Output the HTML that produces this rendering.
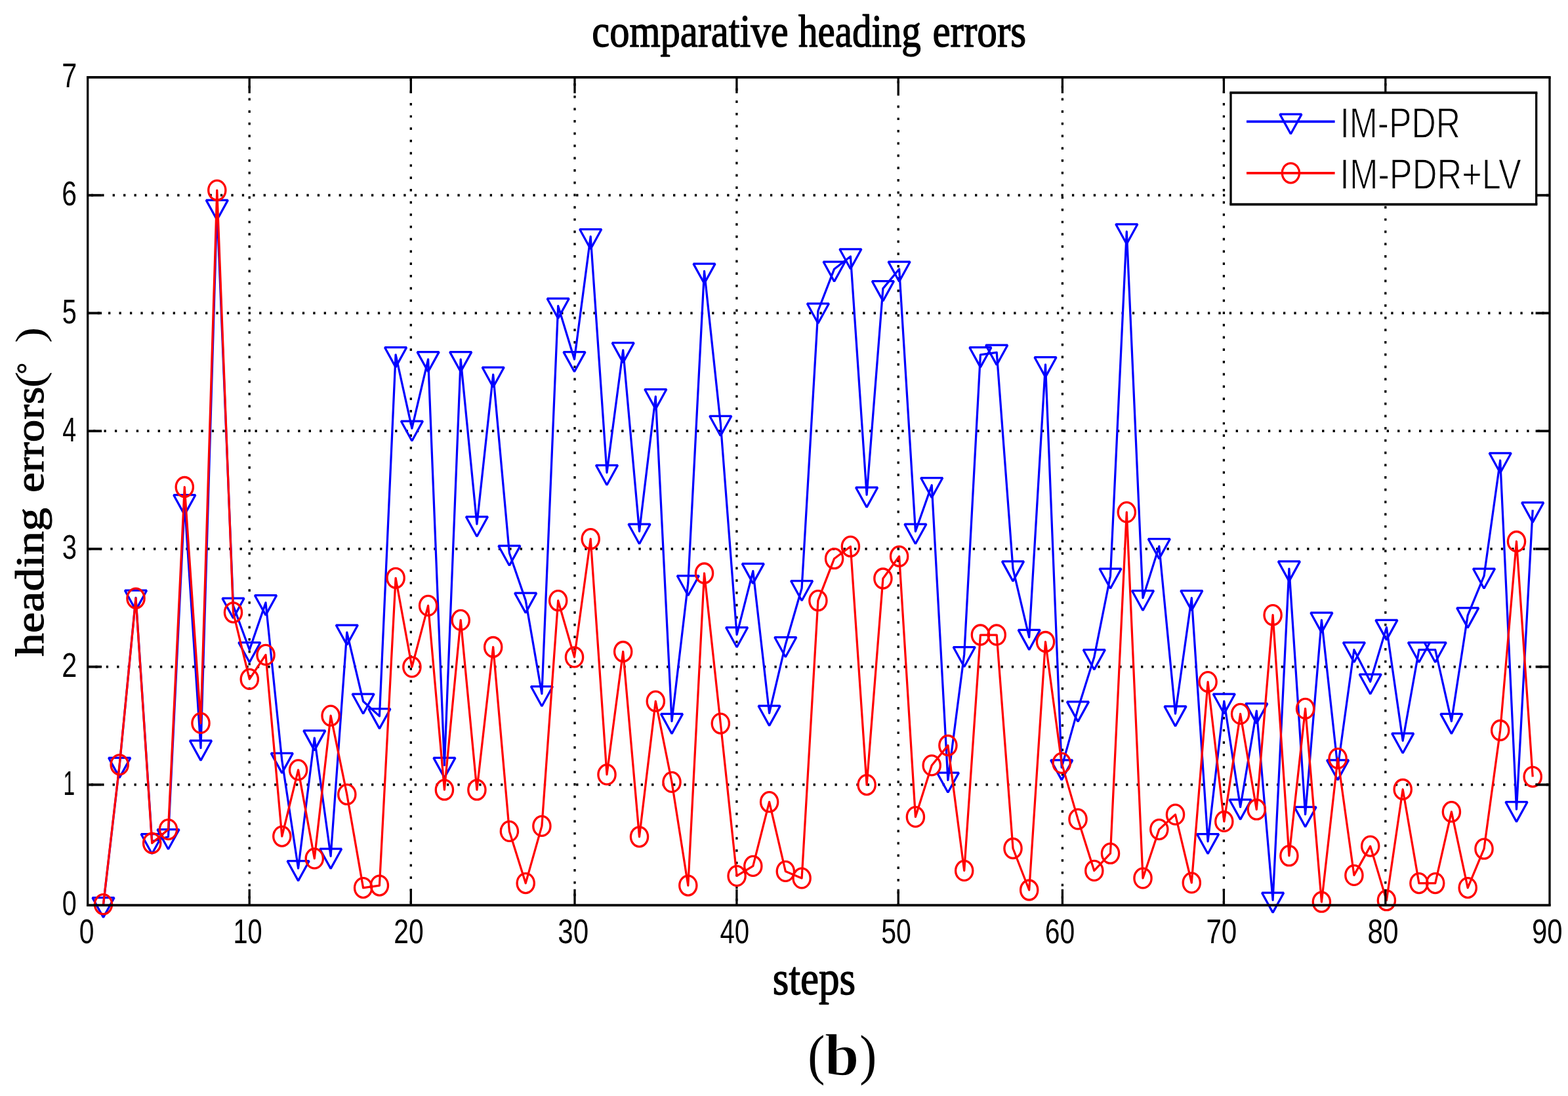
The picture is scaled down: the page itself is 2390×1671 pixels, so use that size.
<!DOCTYPE html>
<html lang="en"><head><meta charset="utf-8"><title>comparative heading errors</title>
<style>html,body{margin:0;padding:0;background:#fff}body{width:2390px;height:1671px;overflow:hidden}svg{display:block}.sans{font-family:"Liberation Sans",sans-serif}.serif{font-family:"Liberation Serif",serif}</style></head><body>
<svg width="2390" height="1671" viewBox="0 0 2390 1671">
<rect x="0" y="0" width="2390" height="1671" fill="#fff"/>
<g id="grid" stroke="#000" fill="none">
<line x1="380.2" y1="117.9" x2="380.2" y2="1380.0" stroke-width="3.30" stroke-dasharray="3.74 14.98" stroke-dashoffset="-12.81"/>
<line x1="626.3" y1="117.9" x2="626.3" y2="1380.0" stroke-width="3.30" stroke-dasharray="3.74 14.98" stroke-dashoffset="-1.57"/>
<line x1="876.0" y1="117.9" x2="876.0" y2="1380.0" stroke-width="3.30" stroke-dasharray="3.74 14.98" stroke-dashoffset="-9.06"/>
<line x1="1122.9" y1="117.9" x2="1122.9" y2="1380.0" stroke-width="3.30" stroke-dasharray="3.74 14.98" stroke-dashoffset="-16.55"/>
<line x1="1369.2" y1="117.9" x2="1369.2" y2="1380.0" stroke-width="3.30" stroke-dasharray="3.74 14.98" stroke-dashoffset="-5.32"/>
<line x1="1619.4" y1="117.9" x2="1619.4" y2="1380.0" stroke-width="3.30" stroke-dasharray="3.74 14.98" stroke-dashoffset="-12.81"/>
<line x1="1865.4" y1="117.9" x2="1865.4" y2="1380.0" stroke-width="3.30" stroke-dasharray="3.74 14.98" stroke-dashoffset="-1.57"/>
<line x1="2111.8" y1="117.9" x2="2111.8" y2="1380.0" stroke-width="3.30" stroke-dasharray="3.74 14.98" stroke-dashoffset="-9.06"/>
<line x1="133.7" y1="1196.4" x2="2362.0" y2="1196.4" stroke-width="3.75" stroke-dasharray="3.29 13.14" stroke-dashoffset="-5.10"/>
<line x1="133.7" y1="1016.6" x2="2362.0" y2="1016.6" stroke-width="3.75" stroke-dasharray="3.29 13.14" stroke-dashoffset="-11.67"/>
<line x1="133.7" y1="836.9" x2="2362.0" y2="836.9" stroke-width="3.75" stroke-dasharray="3.29 13.14" stroke-dashoffset="-1.81"/>
<line x1="133.7" y1="657.2" x2="2362.0" y2="657.2" stroke-width="3.75" stroke-dasharray="3.29 13.14" stroke-dashoffset="-8.39"/>
<line x1="133.7" y1="477.4" x2="2362.0" y2="477.4" stroke-width="3.75" stroke-dasharray="3.29 13.14" stroke-dashoffset="-14.96"/>
<line x1="133.7" y1="297.7" x2="2362.0" y2="297.7" stroke-width="3.75" stroke-dasharray="3.29 13.14" stroke-dashoffset="-5.10"/>
</g>
<g id="s-blue">
<polyline points="157.5,1379.8 182.2,1166.6 207.0,911.4 231.7,1282.8 256.5,1275.8 281.3,765.9 306.0,1140.4 330.8,316.3 355.5,923.4 380.3,990.7 405.0,918.9 429.8,1159.6 454.6,1323.9 479.3,1125.1 504.1,1305.4 528.8,964.2 553.6,1069.2 578.4,1091.9 603.1,540.9 627.9,653.2 652.6,547.8 677.4,1166.6 702.2,547.8 726.9,799.0 751.7,571.2 776.4,843.3 801.2,915.4 825.9,1057.7 850.7,466.4 875.5,547.8 900.2,360.7 925.0,720.5 949.7,533.9 974.5,810.2 999.3,604.7 1024.0,1099.6 1048.8,889.0 1073.5,413.3 1098.3,645.5 1123.1,967.7 1147.8,870.6 1172.6,1087.4 1197.3,982.7 1222.1,896.7 1246.9,474.0 1271.6,410.2 1296.4,391.0 1321.1,754.4 1345.9,439.9 1370.6,410.2 1395.4,810.2 1420.2,739.7 1444.9,1189.3 1469.7,997.7 1494.4,540.9 1519.2,537.4 1544.0,867.1 1568.7,971.6 1593.5,555.9 1618.2,1170.1 1643.0,1081.1 1667.8,1001.9 1692.5,878.2 1717.3,353.0 1742.0,911.7 1766.8,832.9 1791.5,1088.1 1816.3,911.7 1841.1,1282.8 1865.8,1069.2 1890.6,1230.4 1915.3,1083.9 1940.1,1372.4 1964.9,867.1 1989.6,1241.6 2014.4,945.4 2039.1,1170.1 2063.9,990.7 2088.7,1039.2 2113.4,956.6 2138.2,1129.3 2162.9,990.7 2187.7,990.7 2212.4,1099.6 2237.2,938.1 2262.0,878.2 2286.7,702.0 2311.5,1233.9 2336.2,777.4" fill="none" stroke="#0000ff" stroke-width="3.25" stroke-linejoin="round"/>
<path d="M140.9 1368.6H174.1L157.5 1398.8Z" fill="none" stroke="#0000ff" stroke-width="3.25" stroke-linejoin="bevel"/>
<path d="M165.6 1155.4H198.8L182.2 1185.6Z" fill="none" stroke="#0000ff" stroke-width="3.25" stroke-linejoin="bevel"/>
<path d="M190.4 900.2H223.6L207.0 930.4Z" fill="none" stroke="#0000ff" stroke-width="3.25" stroke-linejoin="bevel"/>
<path d="M215.1 1271.6H248.3L231.7 1301.8Z" fill="none" stroke="#0000ff" stroke-width="3.25" stroke-linejoin="bevel"/>
<path d="M239.9 1264.6H273.1L256.5 1294.8Z" fill="none" stroke="#0000ff" stroke-width="3.25" stroke-linejoin="bevel"/>
<path d="M264.7 754.7H297.9L281.3 784.9Z" fill="none" stroke="#0000ff" stroke-width="3.25" stroke-linejoin="bevel"/>
<path d="M289.4 1129.2H322.6L306.0 1159.4Z" fill="none" stroke="#0000ff" stroke-width="3.25" stroke-linejoin="bevel"/>
<path d="M314.2 305.1H347.4L330.8 335.3Z" fill="none" stroke="#0000ff" stroke-width="3.25" stroke-linejoin="bevel"/>
<path d="M338.9 912.2H372.1L355.5 942.4Z" fill="none" stroke="#0000ff" stroke-width="3.25" stroke-linejoin="bevel"/>
<path d="M363.7 979.5H396.9L380.3 1009.7Z" fill="none" stroke="#0000ff" stroke-width="3.25" stroke-linejoin="bevel"/>
<path d="M388.4 907.7H421.6L405.0 937.9Z" fill="none" stroke="#0000ff" stroke-width="3.25" stroke-linejoin="bevel"/>
<path d="M413.2 1148.4H446.4L429.8 1178.6Z" fill="none" stroke="#0000ff" stroke-width="3.25" stroke-linejoin="bevel"/>
<path d="M438.0 1312.7H471.2L454.6 1342.9Z" fill="none" stroke="#0000ff" stroke-width="3.25" stroke-linejoin="bevel"/>
<path d="M462.7 1113.9H495.9L479.3 1144.1Z" fill="none" stroke="#0000ff" stroke-width="3.25" stroke-linejoin="bevel"/>
<path d="M487.5 1294.2H520.7L504.1 1324.4Z" fill="none" stroke="#0000ff" stroke-width="3.25" stroke-linejoin="bevel"/>
<path d="M512.2 953.0H545.4L528.8 983.2Z" fill="none" stroke="#0000ff" stroke-width="3.25" stroke-linejoin="bevel"/>
<path d="M537.0 1058.0H570.2L553.6 1088.2Z" fill="none" stroke="#0000ff" stroke-width="3.25" stroke-linejoin="bevel"/>
<path d="M561.8 1080.7H595.0L578.4 1110.9Z" fill="none" stroke="#0000ff" stroke-width="3.25" stroke-linejoin="bevel"/>
<path d="M586.5 529.7H619.7L603.1 559.9Z" fill="none" stroke="#0000ff" stroke-width="3.25" stroke-linejoin="bevel"/>
<path d="M611.3 642.0H644.5L627.9 672.2Z" fill="none" stroke="#0000ff" stroke-width="3.25" stroke-linejoin="bevel"/>
<path d="M636.0 536.6H669.2L652.6 566.8Z" fill="none" stroke="#0000ff" stroke-width="3.25" stroke-linejoin="bevel"/>
<path d="M660.8 1155.4H694.0L677.4 1185.6Z" fill="none" stroke="#0000ff" stroke-width="3.25" stroke-linejoin="bevel"/>
<path d="M685.6 536.6H718.8L702.2 566.8Z" fill="none" stroke="#0000ff" stroke-width="3.25" stroke-linejoin="bevel"/>
<path d="M710.3 787.8H743.5L726.9 818.0Z" fill="none" stroke="#0000ff" stroke-width="3.25" stroke-linejoin="bevel"/>
<path d="M735.1 560.0H768.3L751.7 590.2Z" fill="none" stroke="#0000ff" stroke-width="3.25" stroke-linejoin="bevel"/>
<path d="M759.8 832.1H793.0L776.4 862.3Z" fill="none" stroke="#0000ff" stroke-width="3.25" stroke-linejoin="bevel"/>
<path d="M784.6 904.2H817.8L801.2 934.4Z" fill="none" stroke="#0000ff" stroke-width="3.25" stroke-linejoin="bevel"/>
<path d="M809.3 1046.5H842.5L825.9 1076.7Z" fill="none" stroke="#0000ff" stroke-width="3.25" stroke-linejoin="bevel"/>
<path d="M834.1 455.2H867.3L850.7 485.4Z" fill="none" stroke="#0000ff" stroke-width="3.25" stroke-linejoin="bevel"/>
<path d="M858.9 536.6H892.1L875.5 566.8Z" fill="none" stroke="#0000ff" stroke-width="3.25" stroke-linejoin="bevel"/>
<path d="M883.6 349.5H916.8L900.2 379.7Z" fill="none" stroke="#0000ff" stroke-width="3.25" stroke-linejoin="bevel"/>
<path d="M908.4 709.3H941.6L925.0 739.5Z" fill="none" stroke="#0000ff" stroke-width="3.25" stroke-linejoin="bevel"/>
<path d="M933.1 522.7H966.3L949.7 552.9Z" fill="none" stroke="#0000ff" stroke-width="3.25" stroke-linejoin="bevel"/>
<path d="M957.9 799.0H991.1L974.5 829.2Z" fill="none" stroke="#0000ff" stroke-width="3.25" stroke-linejoin="bevel"/>
<path d="M982.7 593.5H1015.9L999.3 623.7Z" fill="none" stroke="#0000ff" stroke-width="3.25" stroke-linejoin="bevel"/>
<path d="M1007.4 1088.4H1040.6L1024.0 1118.6Z" fill="none" stroke="#0000ff" stroke-width="3.25" stroke-linejoin="bevel"/>
<path d="M1032.2 877.8H1065.4L1048.8 908.0Z" fill="none" stroke="#0000ff" stroke-width="3.25" stroke-linejoin="bevel"/>
<path d="M1056.9 402.1H1090.1L1073.5 432.3Z" fill="none" stroke="#0000ff" stroke-width="3.25" stroke-linejoin="bevel"/>
<path d="M1081.7 634.3H1114.9L1098.3 664.5Z" fill="none" stroke="#0000ff" stroke-width="3.25" stroke-linejoin="bevel"/>
<path d="M1106.5 956.5H1139.7L1123.1 986.7Z" fill="none" stroke="#0000ff" stroke-width="3.25" stroke-linejoin="bevel"/>
<path d="M1131.2 859.4H1164.4L1147.8 889.6Z" fill="none" stroke="#0000ff" stroke-width="3.25" stroke-linejoin="bevel"/>
<path d="M1156.0 1076.2H1189.2L1172.6 1106.4Z" fill="none" stroke="#0000ff" stroke-width="3.25" stroke-linejoin="bevel"/>
<path d="M1180.7 971.5H1213.9L1197.3 1001.7Z" fill="none" stroke="#0000ff" stroke-width="3.25" stroke-linejoin="bevel"/>
<path d="M1205.5 885.5H1238.7L1222.1 915.7Z" fill="none" stroke="#0000ff" stroke-width="3.25" stroke-linejoin="bevel"/>
<path d="M1230.3 462.8H1263.5L1246.9 493.0Z" fill="none" stroke="#0000ff" stroke-width="3.25" stroke-linejoin="bevel"/>
<path d="M1255.0 399.0H1288.2L1271.6 429.2Z" fill="none" stroke="#0000ff" stroke-width="3.25" stroke-linejoin="bevel"/>
<path d="M1279.8 379.8H1313.0L1296.4 410.0Z" fill="none" stroke="#0000ff" stroke-width="3.25" stroke-linejoin="bevel"/>
<path d="M1304.5 743.2H1337.7L1321.1 773.4Z" fill="none" stroke="#0000ff" stroke-width="3.25" stroke-linejoin="bevel"/>
<path d="M1329.3 428.7H1362.5L1345.9 458.9Z" fill="none" stroke="#0000ff" stroke-width="3.25" stroke-linejoin="bevel"/>
<path d="M1354.0 399.0H1387.2L1370.6 429.2Z" fill="none" stroke="#0000ff" stroke-width="3.25" stroke-linejoin="bevel"/>
<path d="M1378.8 799.0H1412.0L1395.4 829.2Z" fill="none" stroke="#0000ff" stroke-width="3.25" stroke-linejoin="bevel"/>
<path d="M1403.6 728.5H1436.8L1420.2 758.7Z" fill="none" stroke="#0000ff" stroke-width="3.25" stroke-linejoin="bevel"/>
<path d="M1428.3 1178.1H1461.5L1444.9 1208.3Z" fill="none" stroke="#0000ff" stroke-width="3.25" stroke-linejoin="bevel"/>
<path d="M1453.1 986.5H1486.3L1469.7 1016.7Z" fill="none" stroke="#0000ff" stroke-width="3.25" stroke-linejoin="bevel"/>
<path d="M1477.8 529.7H1511.0L1494.4 559.9Z" fill="none" stroke="#0000ff" stroke-width="3.25" stroke-linejoin="bevel"/>
<path d="M1502.6 526.2H1535.8L1519.2 556.4Z" fill="none" stroke="#0000ff" stroke-width="3.25" stroke-linejoin="bevel"/>
<path d="M1527.4 855.9H1560.6L1544.0 886.1Z" fill="none" stroke="#0000ff" stroke-width="3.25" stroke-linejoin="bevel"/>
<path d="M1552.1 960.4H1585.3L1568.7 990.6Z" fill="none" stroke="#0000ff" stroke-width="3.25" stroke-linejoin="bevel"/>
<path d="M1576.9 544.7H1610.1L1593.5 574.9Z" fill="none" stroke="#0000ff" stroke-width="3.25" stroke-linejoin="bevel"/>
<path d="M1601.6 1158.9H1634.8L1618.2 1189.1Z" fill="none" stroke="#0000ff" stroke-width="3.25" stroke-linejoin="bevel"/>
<path d="M1626.4 1069.9H1659.6L1643.0 1100.1Z" fill="none" stroke="#0000ff" stroke-width="3.25" stroke-linejoin="bevel"/>
<path d="M1651.2 990.7H1684.4L1667.8 1020.9Z" fill="none" stroke="#0000ff" stroke-width="3.25" stroke-linejoin="bevel"/>
<path d="M1675.9 867.0H1709.1L1692.5 897.2Z" fill="none" stroke="#0000ff" stroke-width="3.25" stroke-linejoin="bevel"/>
<path d="M1700.7 341.8H1733.9L1717.3 372.0Z" fill="none" stroke="#0000ff" stroke-width="3.25" stroke-linejoin="bevel"/>
<path d="M1725.4 900.5H1758.6L1742.0 930.7Z" fill="none" stroke="#0000ff" stroke-width="3.25" stroke-linejoin="bevel"/>
<path d="M1750.2 821.7H1783.4L1766.8 851.9Z" fill="none" stroke="#0000ff" stroke-width="3.25" stroke-linejoin="bevel"/>
<path d="M1774.9 1076.9H1808.1L1791.5 1107.1Z" fill="none" stroke="#0000ff" stroke-width="3.25" stroke-linejoin="bevel"/>
<path d="M1799.7 900.5H1832.9L1816.3 930.7Z" fill="none" stroke="#0000ff" stroke-width="3.25" stroke-linejoin="bevel"/>
<path d="M1824.5 1271.6H1857.7L1841.1 1301.8Z" fill="none" stroke="#0000ff" stroke-width="3.25" stroke-linejoin="bevel"/>
<path d="M1849.2 1058.0H1882.4L1865.8 1088.2Z" fill="none" stroke="#0000ff" stroke-width="3.25" stroke-linejoin="bevel"/>
<path d="M1874.0 1219.2H1907.2L1890.6 1249.4Z" fill="none" stroke="#0000ff" stroke-width="3.25" stroke-linejoin="bevel"/>
<path d="M1898.7 1072.7H1931.9L1915.3 1102.9Z" fill="none" stroke="#0000ff" stroke-width="3.25" stroke-linejoin="bevel"/>
<path d="M1923.5 1361.2H1956.7L1940.1 1391.4Z" fill="none" stroke="#0000ff" stroke-width="3.25" stroke-linejoin="bevel"/>
<path d="M1948.3 855.9H1981.5L1964.9 886.1Z" fill="none" stroke="#0000ff" stroke-width="3.25" stroke-linejoin="bevel"/>
<path d="M1973.0 1230.4H2006.2L1989.6 1260.6Z" fill="none" stroke="#0000ff" stroke-width="3.25" stroke-linejoin="bevel"/>
<path d="M1997.8 934.2H2031.0L2014.4 964.4Z" fill="none" stroke="#0000ff" stroke-width="3.25" stroke-linejoin="bevel"/>
<path d="M2022.5 1158.9H2055.7L2039.1 1189.1Z" fill="none" stroke="#0000ff" stroke-width="3.25" stroke-linejoin="bevel"/>
<path d="M2047.3 979.5H2080.5L2063.9 1009.7Z" fill="none" stroke="#0000ff" stroke-width="3.25" stroke-linejoin="bevel"/>
<path d="M2072.1 1028.0H2105.3L2088.7 1058.2Z" fill="none" stroke="#0000ff" stroke-width="3.25" stroke-linejoin="bevel"/>
<path d="M2096.8 945.4H2130.0L2113.4 975.6Z" fill="none" stroke="#0000ff" stroke-width="3.25" stroke-linejoin="bevel"/>
<path d="M2121.6 1118.1H2154.8L2138.2 1148.3Z" fill="none" stroke="#0000ff" stroke-width="3.25" stroke-linejoin="bevel"/>
<path d="M2146.3 979.5H2179.5L2162.9 1009.7Z" fill="none" stroke="#0000ff" stroke-width="3.25" stroke-linejoin="bevel"/>
<path d="M2171.1 979.5H2204.3L2187.7 1009.7Z" fill="none" stroke="#0000ff" stroke-width="3.25" stroke-linejoin="bevel"/>
<path d="M2195.8 1088.4H2229.0L2212.4 1118.6Z" fill="none" stroke="#0000ff" stroke-width="3.25" stroke-linejoin="bevel"/>
<path d="M2220.6 926.9H2253.8L2237.2 957.1Z" fill="none" stroke="#0000ff" stroke-width="3.25" stroke-linejoin="bevel"/>
<path d="M2245.4 867.0H2278.6L2262.0 897.2Z" fill="none" stroke="#0000ff" stroke-width="3.25" stroke-linejoin="bevel"/>
<path d="M2270.1 690.8H2303.3L2286.7 721.0Z" fill="none" stroke="#0000ff" stroke-width="3.25" stroke-linejoin="bevel"/>
<path d="M2294.9 1222.7H2328.1L2311.5 1252.9Z" fill="none" stroke="#0000ff" stroke-width="3.25" stroke-linejoin="bevel"/>
<path d="M2319.6 766.2H2352.8L2336.2 796.4Z" fill="none" stroke="#0000ff" stroke-width="3.25" stroke-linejoin="bevel"/>
</g>
<g id="s-red">
<polyline points="157.5,1378.7 182.2,1165.9 207.0,912.2 231.7,1285.5 256.5,1264.6 281.3,742.5 306.0,1102.4 330.8,290.1 355.5,933.8 380.3,1035.4 405.0,998.4 429.8,1275.1 454.6,1173.9 479.3,1308.9 504.1,1091.2 528.8,1211.2 553.6,1353.6 578.4,1350.1 603.1,881.3 627.9,1016.9 652.6,923.4 677.4,1204.2 702.2,945.4 726.9,1204.2 751.7,986.5 776.4,1267.4 801.2,1346.6 825.9,1259.4 850.7,915.7 875.5,1001.9 900.2,821.7 925.0,1180.9 949.7,993.5 974.5,1275.8 999.3,1069.2 1024.0,1192.4 1048.8,1350.1 1073.5,874.0 1098.3,1103.1 1123.1,1335.4 1147.8,1320.4 1172.6,1222.7 1197.3,1328.4 1222.1,1338.9 1246.9,915.7 1271.6,851.7 1296.4,833.2 1321.1,1196.6 1345.9,882.0 1370.6,848.2 1395.4,1245.4 1420.2,1166.9 1444.9,1136.5 1469.7,1327.4 1494.4,968.0 1519.2,968.0 1544.0,1293.5 1568.7,1357.0 1593.5,978.5 1618.2,1163.4 1643.0,1248.9 1667.8,1327.4 1692.5,1301.2 1717.3,780.9 1742.0,1338.9 1766.8,1264.6 1791.5,1241.9 1816.3,1345.9 1841.1,1039.6 1865.8,1252.4 1890.6,1088.4 1915.3,1234.2 1940.1,937.7 1964.9,1304.7 1989.6,1080.4 2014.4,1375.2 2039.1,1156.4 2063.9,1334.4 2088.7,1290.1 2113.4,1372.7 2138.2,1203.5 2162.9,1346.6 2187.7,1346.6 2212.4,1237.7 2237.2,1353.6 2262.0,1294.2 2286.7,1113.5 2311.5,825.5 2336.2,1184.3" fill="none" stroke="#ff0000" stroke-width="3.25" stroke-linejoin="round"/>
<ellipse cx="157.5" cy="1378.7" rx="13.1" ry="15.0" fill="none" stroke="#ff0000" stroke-width="3.34"/>
<ellipse cx="182.2" cy="1165.9" rx="13.1" ry="15.0" fill="none" stroke="#ff0000" stroke-width="3.34"/>
<ellipse cx="207.0" cy="912.2" rx="13.1" ry="15.0" fill="none" stroke="#ff0000" stroke-width="3.34"/>
<ellipse cx="231.7" cy="1285.5" rx="13.1" ry="15.0" fill="none" stroke="#ff0000" stroke-width="3.34"/>
<ellipse cx="256.5" cy="1264.6" rx="13.1" ry="15.0" fill="none" stroke="#ff0000" stroke-width="3.34"/>
<ellipse cx="281.3" cy="742.5" rx="13.1" ry="15.0" fill="none" stroke="#ff0000" stroke-width="3.34"/>
<ellipse cx="306.0" cy="1102.4" rx="13.1" ry="15.0" fill="none" stroke="#ff0000" stroke-width="3.34"/>
<ellipse cx="330.8" cy="290.1" rx="13.1" ry="15.0" fill="none" stroke="#ff0000" stroke-width="3.34"/>
<ellipse cx="355.5" cy="933.8" rx="13.1" ry="15.0" fill="none" stroke="#ff0000" stroke-width="3.34"/>
<ellipse cx="380.3" cy="1035.4" rx="13.1" ry="15.0" fill="none" stroke="#ff0000" stroke-width="3.34"/>
<ellipse cx="405.0" cy="998.4" rx="13.1" ry="15.0" fill="none" stroke="#ff0000" stroke-width="3.34"/>
<ellipse cx="429.8" cy="1275.1" rx="13.1" ry="15.0" fill="none" stroke="#ff0000" stroke-width="3.34"/>
<ellipse cx="454.6" cy="1173.9" rx="13.1" ry="15.0" fill="none" stroke="#ff0000" stroke-width="3.34"/>
<ellipse cx="479.3" cy="1308.9" rx="13.1" ry="15.0" fill="none" stroke="#ff0000" stroke-width="3.34"/>
<ellipse cx="504.1" cy="1091.2" rx="13.1" ry="15.0" fill="none" stroke="#ff0000" stroke-width="3.34"/>
<ellipse cx="528.8" cy="1211.2" rx="13.1" ry="15.0" fill="none" stroke="#ff0000" stroke-width="3.34"/>
<ellipse cx="553.6" cy="1353.6" rx="13.1" ry="15.0" fill="none" stroke="#ff0000" stroke-width="3.34"/>
<ellipse cx="578.4" cy="1350.1" rx="13.1" ry="15.0" fill="none" stroke="#ff0000" stroke-width="3.34"/>
<ellipse cx="603.1" cy="881.3" rx="13.1" ry="15.0" fill="none" stroke="#ff0000" stroke-width="3.34"/>
<ellipse cx="627.9" cy="1016.9" rx="13.1" ry="15.0" fill="none" stroke="#ff0000" stroke-width="3.34"/>
<ellipse cx="652.6" cy="923.4" rx="13.1" ry="15.0" fill="none" stroke="#ff0000" stroke-width="3.34"/>
<ellipse cx="677.4" cy="1204.2" rx="13.1" ry="15.0" fill="none" stroke="#ff0000" stroke-width="3.34"/>
<ellipse cx="702.2" cy="945.4" rx="13.1" ry="15.0" fill="none" stroke="#ff0000" stroke-width="3.34"/>
<ellipse cx="726.9" cy="1204.2" rx="13.1" ry="15.0" fill="none" stroke="#ff0000" stroke-width="3.34"/>
<ellipse cx="751.7" cy="986.5" rx="13.1" ry="15.0" fill="none" stroke="#ff0000" stroke-width="3.34"/>
<ellipse cx="776.4" cy="1267.4" rx="13.1" ry="15.0" fill="none" stroke="#ff0000" stroke-width="3.34"/>
<ellipse cx="801.2" cy="1346.6" rx="13.1" ry="15.0" fill="none" stroke="#ff0000" stroke-width="3.34"/>
<ellipse cx="825.9" cy="1259.4" rx="13.1" ry="15.0" fill="none" stroke="#ff0000" stroke-width="3.34"/>
<ellipse cx="850.7" cy="915.7" rx="13.1" ry="15.0" fill="none" stroke="#ff0000" stroke-width="3.34"/>
<ellipse cx="875.5" cy="1001.9" rx="13.1" ry="15.0" fill="none" stroke="#ff0000" stroke-width="3.34"/>
<ellipse cx="900.2" cy="821.7" rx="13.1" ry="15.0" fill="none" stroke="#ff0000" stroke-width="3.34"/>
<ellipse cx="925.0" cy="1180.9" rx="13.1" ry="15.0" fill="none" stroke="#ff0000" stroke-width="3.34"/>
<ellipse cx="949.7" cy="993.5" rx="13.1" ry="15.0" fill="none" stroke="#ff0000" stroke-width="3.34"/>
<ellipse cx="974.5" cy="1275.8" rx="13.1" ry="15.0" fill="none" stroke="#ff0000" stroke-width="3.34"/>
<ellipse cx="999.3" cy="1069.2" rx="13.1" ry="15.0" fill="none" stroke="#ff0000" stroke-width="3.34"/>
<ellipse cx="1024.0" cy="1192.4" rx="13.1" ry="15.0" fill="none" stroke="#ff0000" stroke-width="3.34"/>
<ellipse cx="1048.8" cy="1350.1" rx="13.1" ry="15.0" fill="none" stroke="#ff0000" stroke-width="3.34"/>
<ellipse cx="1073.5" cy="874.0" rx="13.1" ry="15.0" fill="none" stroke="#ff0000" stroke-width="3.34"/>
<ellipse cx="1098.3" cy="1103.1" rx="13.1" ry="15.0" fill="none" stroke="#ff0000" stroke-width="3.34"/>
<ellipse cx="1123.1" cy="1335.4" rx="13.1" ry="15.0" fill="none" stroke="#ff0000" stroke-width="3.34"/>
<ellipse cx="1147.8" cy="1320.4" rx="13.1" ry="15.0" fill="none" stroke="#ff0000" stroke-width="3.34"/>
<ellipse cx="1172.6" cy="1222.7" rx="13.1" ry="15.0" fill="none" stroke="#ff0000" stroke-width="3.34"/>
<ellipse cx="1197.3" cy="1328.4" rx="13.1" ry="15.0" fill="none" stroke="#ff0000" stroke-width="3.34"/>
<ellipse cx="1222.1" cy="1338.9" rx="13.1" ry="15.0" fill="none" stroke="#ff0000" stroke-width="3.34"/>
<ellipse cx="1246.9" cy="915.7" rx="13.1" ry="15.0" fill="none" stroke="#ff0000" stroke-width="3.34"/>
<ellipse cx="1271.6" cy="851.7" rx="13.1" ry="15.0" fill="none" stroke="#ff0000" stroke-width="3.34"/>
<ellipse cx="1296.4" cy="833.2" rx="13.1" ry="15.0" fill="none" stroke="#ff0000" stroke-width="3.34"/>
<ellipse cx="1321.1" cy="1196.6" rx="13.1" ry="15.0" fill="none" stroke="#ff0000" stroke-width="3.34"/>
<ellipse cx="1345.9" cy="882.0" rx="13.1" ry="15.0" fill="none" stroke="#ff0000" stroke-width="3.34"/>
<ellipse cx="1370.6" cy="848.2" rx="13.1" ry="15.0" fill="none" stroke="#ff0000" stroke-width="3.34"/>
<ellipse cx="1395.4" cy="1245.4" rx="13.1" ry="15.0" fill="none" stroke="#ff0000" stroke-width="3.34"/>
<ellipse cx="1420.2" cy="1166.9" rx="13.1" ry="15.0" fill="none" stroke="#ff0000" stroke-width="3.34"/>
<ellipse cx="1444.9" cy="1136.5" rx="13.1" ry="15.0" fill="none" stroke="#ff0000" stroke-width="3.34"/>
<ellipse cx="1469.7" cy="1327.4" rx="13.1" ry="15.0" fill="none" stroke="#ff0000" stroke-width="3.34"/>
<ellipse cx="1494.4" cy="968.0" rx="13.1" ry="15.0" fill="none" stroke="#ff0000" stroke-width="3.34"/>
<ellipse cx="1519.2" cy="968.0" rx="13.1" ry="15.0" fill="none" stroke="#ff0000" stroke-width="3.34"/>
<ellipse cx="1544.0" cy="1293.5" rx="13.1" ry="15.0" fill="none" stroke="#ff0000" stroke-width="3.34"/>
<ellipse cx="1568.7" cy="1357.0" rx="13.1" ry="15.0" fill="none" stroke="#ff0000" stroke-width="3.34"/>
<ellipse cx="1593.5" cy="978.5" rx="13.1" ry="15.0" fill="none" stroke="#ff0000" stroke-width="3.34"/>
<ellipse cx="1618.2" cy="1163.4" rx="13.1" ry="15.0" fill="none" stroke="#ff0000" stroke-width="3.34"/>
<ellipse cx="1643.0" cy="1248.9" rx="13.1" ry="15.0" fill="none" stroke="#ff0000" stroke-width="3.34"/>
<ellipse cx="1667.8" cy="1327.4" rx="13.1" ry="15.0" fill="none" stroke="#ff0000" stroke-width="3.34"/>
<ellipse cx="1692.5" cy="1301.2" rx="13.1" ry="15.0" fill="none" stroke="#ff0000" stroke-width="3.34"/>
<ellipse cx="1717.3" cy="780.9" rx="13.1" ry="15.0" fill="none" stroke="#ff0000" stroke-width="3.34"/>
<ellipse cx="1742.0" cy="1338.9" rx="13.1" ry="15.0" fill="none" stroke="#ff0000" stroke-width="3.34"/>
<ellipse cx="1766.8" cy="1264.6" rx="13.1" ry="15.0" fill="none" stroke="#ff0000" stroke-width="3.34"/>
<ellipse cx="1791.5" cy="1241.9" rx="13.1" ry="15.0" fill="none" stroke="#ff0000" stroke-width="3.34"/>
<ellipse cx="1816.3" cy="1345.9" rx="13.1" ry="15.0" fill="none" stroke="#ff0000" stroke-width="3.34"/>
<ellipse cx="1841.1" cy="1039.6" rx="13.1" ry="15.0" fill="none" stroke="#ff0000" stroke-width="3.34"/>
<ellipse cx="1865.8" cy="1252.4" rx="13.1" ry="15.0" fill="none" stroke="#ff0000" stroke-width="3.34"/>
<ellipse cx="1890.6" cy="1088.4" rx="13.1" ry="15.0" fill="none" stroke="#ff0000" stroke-width="3.34"/>
<ellipse cx="1915.3" cy="1234.2" rx="13.1" ry="15.0" fill="none" stroke="#ff0000" stroke-width="3.34"/>
<ellipse cx="1940.1" cy="937.7" rx="13.1" ry="15.0" fill="none" stroke="#ff0000" stroke-width="3.34"/>
<ellipse cx="1964.9" cy="1304.7" rx="13.1" ry="15.0" fill="none" stroke="#ff0000" stroke-width="3.34"/>
<ellipse cx="1989.6" cy="1080.4" rx="13.1" ry="15.0" fill="none" stroke="#ff0000" stroke-width="3.34"/>
<ellipse cx="2014.4" cy="1375.2" rx="13.1" ry="15.0" fill="none" stroke="#ff0000" stroke-width="3.34"/>
<ellipse cx="2039.1" cy="1156.4" rx="13.1" ry="15.0" fill="none" stroke="#ff0000" stroke-width="3.34"/>
<ellipse cx="2063.9" cy="1334.4" rx="13.1" ry="15.0" fill="none" stroke="#ff0000" stroke-width="3.34"/>
<ellipse cx="2088.7" cy="1290.1" rx="13.1" ry="15.0" fill="none" stroke="#ff0000" stroke-width="3.34"/>
<ellipse cx="2113.4" cy="1372.7" rx="13.1" ry="15.0" fill="none" stroke="#ff0000" stroke-width="3.34"/>
<ellipse cx="2138.2" cy="1203.5" rx="13.1" ry="15.0" fill="none" stroke="#ff0000" stroke-width="3.34"/>
<ellipse cx="2162.9" cy="1346.6" rx="13.1" ry="15.0" fill="none" stroke="#ff0000" stroke-width="3.34"/>
<ellipse cx="2187.7" cy="1346.6" rx="13.1" ry="15.0" fill="none" stroke="#ff0000" stroke-width="3.34"/>
<ellipse cx="2212.4" cy="1237.7" rx="13.1" ry="15.0" fill="none" stroke="#ff0000" stroke-width="3.34"/>
<ellipse cx="2237.2" cy="1353.6" rx="13.1" ry="15.0" fill="none" stroke="#ff0000" stroke-width="3.34"/>
<ellipse cx="2262.0" cy="1294.2" rx="13.1" ry="15.0" fill="none" stroke="#ff0000" stroke-width="3.34"/>
<ellipse cx="2286.7" cy="1113.5" rx="13.1" ry="15.0" fill="none" stroke="#ff0000" stroke-width="3.34"/>
<ellipse cx="2311.5" cy="825.5" rx="13.1" ry="15.0" fill="none" stroke="#ff0000" stroke-width="3.34"/>
<ellipse cx="2336.2" cy="1184.3" rx="13.1" ry="15.0" fill="none" stroke="#ff0000" stroke-width="3.34"/>
</g>
<g stroke="#000" fill="none" stroke-linecap="butt">
<line x1="132.0" y1="117.9" x2="2363.7" y2="117.9" stroke-width="3.75"/>
<line x1="132.0" y1="1380.0" x2="2363.7" y2="1380.0" stroke-width="3.75"/>
<line x1="133.7" y1="117.9" x2="133.7" y2="1380.0" stroke-width="3.30"/>
<line x1="2362.0" y1="117.9" x2="2362.0" y2="1380.0" stroke-width="3.30"/>
<line x1="380.2" y1="117.9" x2="380.2" y2="142.2" stroke-width="3.30"/>
<line x1="380.2" y1="1380.0" x2="380.2" y2="1355.7" stroke-width="3.30"/>
<line x1="626.3" y1="117.9" x2="626.3" y2="142.2" stroke-width="3.30"/>
<line x1="626.3" y1="1380.0" x2="626.3" y2="1355.7" stroke-width="3.30"/>
<line x1="876.0" y1="117.9" x2="876.0" y2="142.2" stroke-width="3.30"/>
<line x1="876.0" y1="1380.0" x2="876.0" y2="1355.7" stroke-width="3.30"/>
<line x1="1122.9" y1="117.9" x2="1122.9" y2="142.2" stroke-width="3.30"/>
<line x1="1122.9" y1="1380.0" x2="1122.9" y2="1355.7" stroke-width="3.30"/>
<line x1="1369.2" y1="117.9" x2="1369.2" y2="142.2" stroke-width="3.30"/>
<line x1="1369.2" y1="1380.0" x2="1369.2" y2="1355.7" stroke-width="3.30"/>
<line x1="1619.4" y1="117.9" x2="1619.4" y2="142.2" stroke-width="3.30"/>
<line x1="1619.4" y1="1380.0" x2="1619.4" y2="1355.7" stroke-width="3.30"/>
<line x1="1865.4" y1="117.9" x2="1865.4" y2="142.2" stroke-width="3.30"/>
<line x1="1865.4" y1="1380.0" x2="1865.4" y2="1355.7" stroke-width="3.30"/>
<line x1="2111.8" y1="117.9" x2="2111.8" y2="142.2" stroke-width="3.30"/>
<line x1="2111.8" y1="1380.0" x2="2111.8" y2="1355.7" stroke-width="3.30"/>
<line x1="133.7" y1="1196.4" x2="155.1" y2="1196.4" stroke-width="3.75"/>
<line x1="2362.0" y1="1196.4" x2="2340.6" y2="1196.4" stroke-width="3.75"/>
<line x1="133.7" y1="1016.6" x2="155.1" y2="1016.6" stroke-width="3.75"/>
<line x1="2362.0" y1="1016.6" x2="2340.6" y2="1016.6" stroke-width="3.75"/>
<line x1="133.7" y1="836.9" x2="155.1" y2="836.9" stroke-width="3.75"/>
<line x1="2362.0" y1="836.9" x2="2340.6" y2="836.9" stroke-width="3.75"/>
<line x1="133.7" y1="657.2" x2="155.1" y2="657.2" stroke-width="3.75"/>
<line x1="2362.0" y1="657.2" x2="2340.6" y2="657.2" stroke-width="3.75"/>
<line x1="133.7" y1="477.4" x2="155.1" y2="477.4" stroke-width="3.75"/>
<line x1="2362.0" y1="477.4" x2="2340.6" y2="477.4" stroke-width="3.75"/>
<line x1="133.7" y1="297.7" x2="155.1" y2="297.7" stroke-width="3.75"/>
<line x1="2362.0" y1="297.7" x2="2340.6" y2="297.7" stroke-width="3.75"/>
</g>
<g id="xticklabels">
<text class="sans" transform="translate(120.77 1437.60) scale(0.7839 1.0000)" font-size="52.1" font-weight="400" fill="#000">0</text>
<text class="sans" transform="translate(355.41 1437.60) scale(0.7639 1.0000)" font-size="52.1" font-weight="400" fill="#000">10</text>
<text class="sans" transform="translate(600.36 1437.60) scale(0.7846 1.0000)" font-size="52.1" font-weight="400" fill="#000">20</text>
<text class="sans" transform="translate(850.21 1437.60) scale(0.8086 1.0000)" font-size="52.1" font-weight="400" fill="#000">30</text>
<text class="sans" transform="translate(1097.40 1437.60) scale(0.7714 1.0000)" font-size="52.1" font-weight="400" fill="#000">40</text>
<text class="sans" transform="translate(1343.16 1437.60) scale(0.7882 1.0000)" font-size="52.1" font-weight="400" fill="#000">50</text>
<text class="sans" transform="translate(1592.86 1437.60) scale(0.7846 1.0000)" font-size="52.1" font-weight="400" fill="#000">60</text>
<text class="sans" transform="translate(1838.39 1437.60) scale(0.8090 1.0000)" font-size="52.1" font-weight="400" fill="#000">70</text>
<text class="sans" transform="translate(2084.49 1437.60) scale(0.8143 1.0000)" font-size="52.1" font-weight="400" fill="#000">80</text>
<text class="sans" transform="translate(2334.91 1437.60) scale(0.8050 1.0000)" font-size="52.1" font-weight="400" fill="#000">90</text>
</g>
<g id="yticklabels">
<text class="sans" transform="translate(94.72 1395.40) scale(0.7597 1.0000)" font-size="52.1" font-weight="400" fill="#000">0</text>
<text class="sans" transform="translate(96.53 1211.80) scale(0.6071 1.0000)" font-size="52.1" font-weight="400" fill="#000">1</text>
<text class="sans" transform="translate(94.23 1032.00) scale(0.7931 1.0000)" font-size="52.1" font-weight="400" fill="#000">2</text>
<text class="sans" transform="translate(94.70 852.30) scale(0.7678 1.0000)" font-size="52.1" font-weight="400" fill="#000">3</text>
<text class="sans" transform="translate(95.36 672.60) scale(0.7217 1.0000)" font-size="52.1" font-weight="400" fill="#000">4</text>
<text class="sans" transform="translate(94.72 492.80) scale(0.7597 1.0000)" font-size="52.1" font-weight="400" fill="#000">5</text>
<text class="sans" transform="translate(94.26 313.10) scale(0.7844 1.0000)" font-size="52.1" font-weight="400" fill="#000">6</text>
<text class="sans" transform="translate(94.23 133.35) scale(0.7931 1.0000)" font-size="52.1" font-weight="400" fill="#000">7</text>
</g>
<text id="title" class="serif" y="70.5" font-size="70" fill="#000" stroke="#000" stroke-width="1.40" stroke-linejoin="round"><tspan x="902.28" textLength="299.26" lengthAdjust="spacingAndGlyphs">comparative</tspan> <tspan x="1217.01" textLength="186.80" lengthAdjust="spacingAndGlyphs">heading</tspan> <tspan x="1421.45" textLength="142.61" lengthAdjust="spacingAndGlyphs">errors</tspan></text>
<text id="xlabel" class="serif" y="1515.8" font-size="71" fill="#000" stroke="#000" stroke-width="1.40" stroke-linejoin="round"><tspan x="1177.87" textLength="126.34" lengthAdjust="spacingAndGlyphs">steps</tspan></text>
<text id="ylabel" class="serif" transform="translate(65.6 0) rotate(-90)" font-size="62" fill="#000" stroke="#000" stroke-width="1.05" stroke-linejoin="round"><tspan x="-1001.09" textLength="227.14" lengthAdjust="spacingAndGlyphs">heading</tspan> <tspan x="-751.04" textLength="161.38" lengthAdjust="spacingAndGlyphs">errors</tspan><tspan x="-591.59" textLength="25.07" lengthAdjust="spacingAndGlyphs" stroke-width="0.00">(</tspan><tspan x="-570.5" dy="-9.9" font-size="44" stroke-width="0.8">°</tspan> <tspan x="-522.66" textLength="23.95" lengthAdjust="spacingAndGlyphs" dy="9.9" stroke-width="0.00">)</tspan></text>
<text id="caption" class="serif" fill="#000"><tspan x="1231.27" textLength="26.12" lengthAdjust="spacingAndGlyphs" y="1637.4" font-size="85.5">(</tspan><tspan x="1256.83" textLength="52.83" lengthAdjust="spacingAndGlyphs" y="1639.0" font-size="91" font-weight="700" stroke="#fff" stroke-width="1.5">b</tspan><tspan x="1310.16" textLength="26.00" lengthAdjust="spacingAndGlyphs" y="1637.4" font-size="85.5">)</tspan></text>
<rect x="1876.0" y="141.3" width="465.7" height="170.4" fill="#fff"/>
<path d="M1874.35 141.30H2343.35M1874.35 311.70H2343.35" fill="none" stroke="#000" stroke-width="3.75"/>
<path d="M1876.00 141.30V311.70M2341.70 141.30V311.70" fill="none" stroke="#000" stroke-width="3.30"/>
<line x1="1900" y1="185.3" x2="2034.6" y2="185.3" stroke="#0000ff" stroke-width="3.75"/>
<path d="M1950.8 174.1H1984.0L1967.4 204.3Z" fill="none" stroke="#0000ff" stroke-width="3.25" stroke-linejoin="bevel"/>
<line x1="1900" y1="263.8" x2="2034.6" y2="263.8" stroke="#ff0000" stroke-width="3.75"/>
<ellipse cx="1967.4" cy="263.8" rx="13.1" ry="15.0" fill="none" stroke="#ff0000" stroke-width="3.34"/>
<text class="sans" transform="translate(2042.42 209.80) scale(0.7893 1.0000)" font-size="65.5" font-weight="400" fill="#000" stroke="#fff" stroke-width="1.25">IM-PDR</text>
<text class="sans" transform="translate(2042.37 288.30) scale(0.7980 1.0000)" font-size="65.5" font-weight="400" fill="#000" stroke="#fff" stroke-width="1.25">IM-PDR+LV</text>
</svg></body></html>
